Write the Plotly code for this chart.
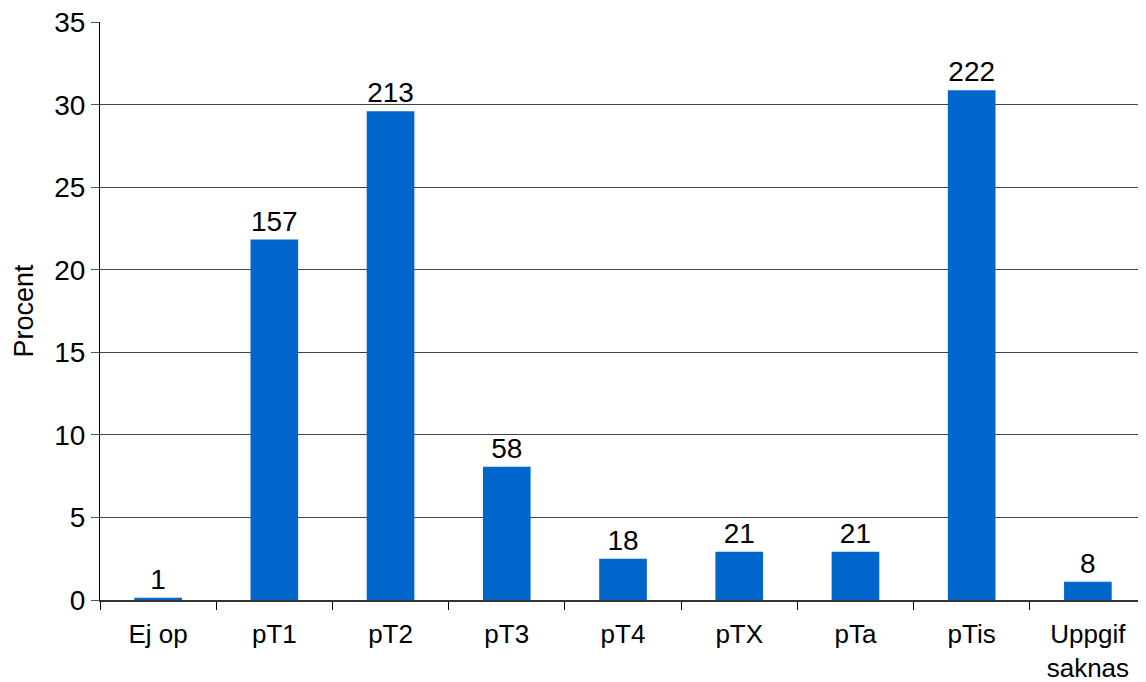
import plotly.graph_objects as go

# categories (T-stadium) and values
categories = ["Ej op", "pT1", "pT2", "pT3", "pT4", "pTX", "pTa", "pTis", "Uppgif<br>saknas"]
counts = [1, 157, 213, 58, 18, 21, 21, 222, 8]
percent = [0.14, 21.84, 29.62, 8.07, 2.50, 2.92, 2.92, 30.88, 1.11]

font_family = "Liberation Sans, Arial, sans-serif"

fig = go.Figure()
fig.add_trace(go.Bar(
    x=categories,
    y=percent,
    text=[str(c) for c in counts],
    textposition="outside",
    textfont=dict(size=28, color="black", family=font_family),
    marker=dict(color="#0066CC", line=dict(width=0)),
    width=0.41,
    cliponaxis=False,
))

# page body has an 8px margin, so the figure is a bit smaller than the window
fig.update_layout(
    width=1138, height=674,
    margin=dict(l=92, r=0, t=14, b=82),
    paper_bgcolor="white",
    plot_bgcolor="white",
    showlegend=False,
    font=dict(family=font_family, color="black", size=26),
    xaxis=dict(
        automargin=False,
        showline=True, linecolor="#333", linewidth=1.5,
        ticks="outside", tickson="boundaries", ticklen=8, tickcolor="black",
        ticklabelstandoff=10,
        tickfont=dict(size=26),
        showgrid=False,
    ),
    yaxis=dict(
        automargin=False,
        range=[0, 35.02], dtick=5,
        ticklabeloverflow="allow",
        showline=True, linecolor="black", linewidth=1,
        ticks="outside", ticklen=8, tickcolor="#555",
        showgrid=True, gridcolor="#444", gridwidth=1,
        tickfont=dict(size=28),
        title=dict(text="Procent", font=dict(size=27), standoff=12),
        zeroline=False,
    ),
)

fig.write_html("out.html")
